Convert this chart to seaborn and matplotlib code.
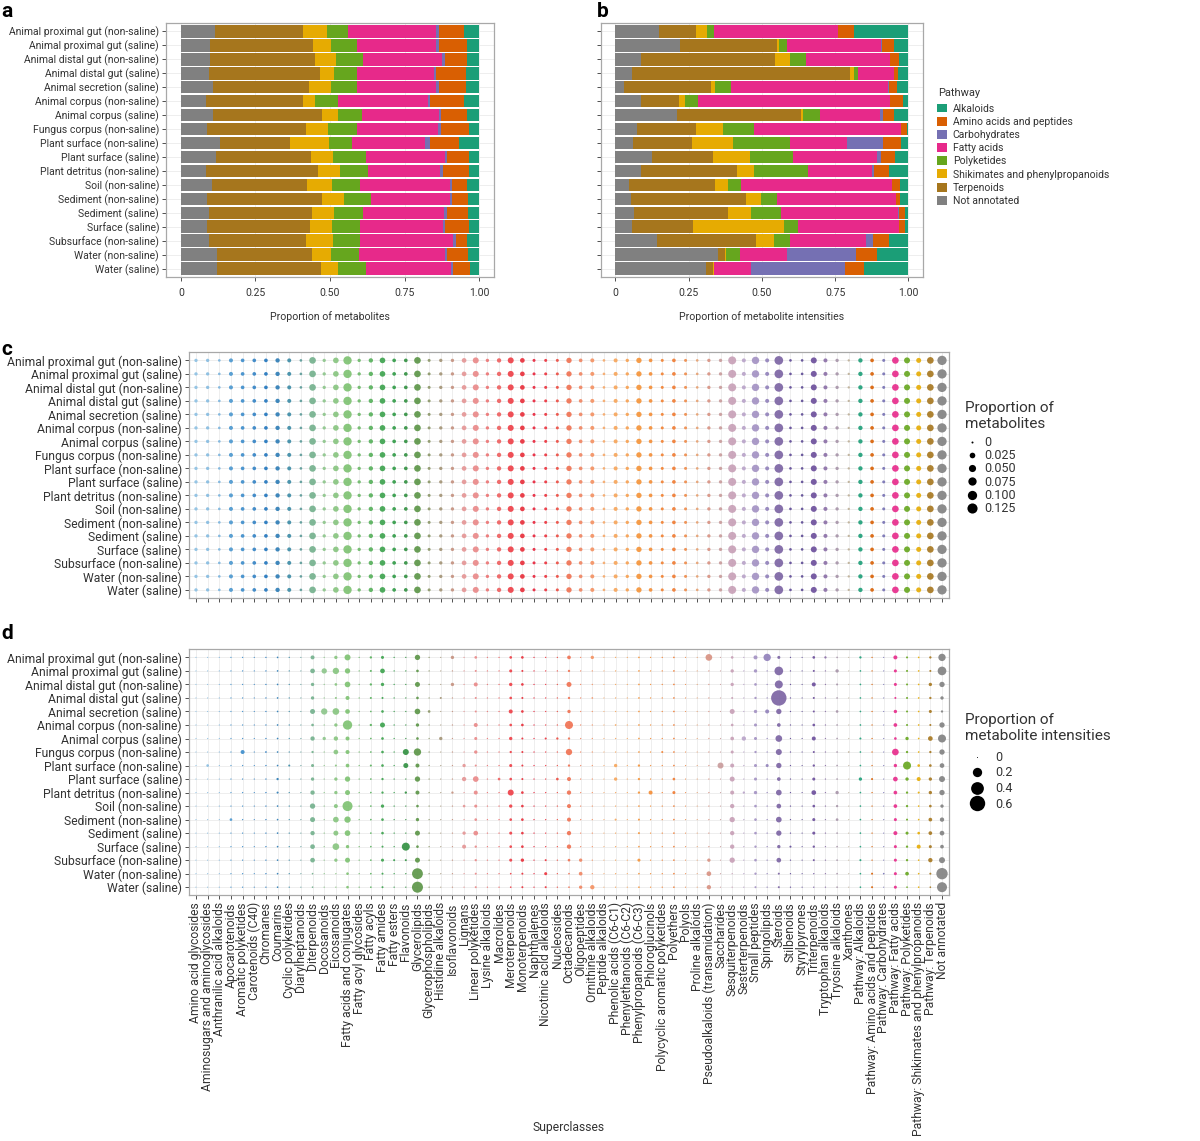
import numpy as np
import pandas as pd
import matplotlib
matplotlib.use("Agg")
import matplotlib.pyplot as plt
import seaborn as sns
from matplotlib.lines import Line2D
from matplotlib.patches import Patch

sns.set_theme(style="white")
plt.rcParams["font.family"] = ["Roboto", "DejaVu Sans"]

# ---------------------------------------------------------------- data
samples = [
    "Animal proximal gut (non-saline)", "Animal proximal gut (saline)",
    "Animal distal gut (non-saline)", "Animal distal gut (saline)",
    "Animal secretion (saline)", "Animal corpus (non-saline)",
    "Animal corpus (saline)", "Fungus corpus (non-saline)",
    "Plant surface (non-saline)", "Plant surface (saline)",
    "Plant detritus (non-saline)", "Soil (non-saline)",
    "Sediment (non-saline)", "Sediment (saline)", "Surface (saline)",
    "Subsurface (non-saline)", "Water (non-saline)", "Water (saline)",
]

pathways = ["Alkaloids", "Amino acids and peptides", "Carbohydrates",
            "Fatty acids", "Polyketides", "Shikimates and phenylpropanoids",
            "Terpenoids", "Not annotated"]

# panel a: proportion of metabolites per pathway (one value per sample)
a_not_annotated = [0.115, 0.096, 0.096, 0.093, 0.106, 0.085, 0.107, 0.087, 0.131, 0.118, 0.084, 0.104, 0.089, 0.093, 0.087, 0.095, 0.122, 0.121]
a_terpenoids = [0.293, 0.346, 0.353, 0.374, 0.325, 0.326, 0.367, 0.331, 0.234, 0.318, 0.376, 0.318, 0.383, 0.347, 0.347, 0.326, 0.316, 0.348]
a_shikimates = [0.083, 0.062, 0.071, 0.048, 0.073, 0.039, 0.054, 0.074, 0.130, 0.073, 0.072, 0.084, 0.075, 0.074, 0.073, 0.090, 0.064, 0.057]
a_polyketides = [0.071, 0.085, 0.089, 0.077, 0.085, 0.077, 0.079, 0.098, 0.078, 0.112, 0.096, 0.095, 0.089, 0.096, 0.092, 0.089, 0.094, 0.096]
a_fatty_acids = [0.294, 0.267, 0.267, 0.256, 0.267, 0.301, 0.259, 0.271, 0.247, 0.263, 0.242, 0.300, 0.265, 0.272, 0.279, 0.314, 0.288, 0.283]
a_carbohydrates = [0.010, 0.009, 0.010, 0.009, 0.009, 0.006, 0.007, 0.012, 0.016, 0.010, 0.009, 0.007, 0.008, 0.010, 0.009, 0.007, 0.009, 0.009]
a_amino_acids = [0.085, 0.096, 0.075, 0.098, 0.090, 0.116, 0.088, 0.092, 0.098, 0.071, 0.087, 0.053, 0.055, 0.072, 0.078, 0.040, 0.069, 0.055]
a_alkaloids = [0.049, 0.039, 0.039, 0.045, 0.045, 0.050, 0.039, 0.035, 0.066, 0.035, 0.034, 0.039, 0.036, 0.036, 0.035, 0.039, 0.038, 0.031]

# panel b: proportion of metabolite intensities per pathway
b_not_annotated = [0.149, 0.222, 0.086, 0.056, 0.030, 0.089, 0.211, 0.073, 0.059, 0.124, 0.089, 0.047, 0.052, 0.063, 0.056, 0.141, 0.351, 0.311]
b_terpenoids = [0.125, 0.329, 0.458, 0.746, 0.295, 0.128, 0.422, 0.202, 0.202, 0.210, 0.326, 0.294, 0.395, 0.322, 0.208, 0.339, 0.024, 0.022]
b_shikimates = [0.040, 0.008, 0.053, 0.013, 0.014, 0.021, 0.008, 0.093, 0.141, 0.126, 0.059, 0.044, 0.051, 0.079, 0.313, 0.062, 0.003, 0.002]
b_polyketides = [0.022, 0.026, 0.053, 0.013, 0.055, 0.044, 0.056, 0.104, 0.195, 0.145, 0.183, 0.045, 0.055, 0.101, 0.047, 0.055, 0.048, 0.003]
b_fatty_acids = [0.424, 0.323, 0.288, 0.123, 0.538, 0.656, 0.205, 0.502, 0.192, 0.288, 0.220, 0.514, 0.404, 0.401, 0.344, 0.260, 0.159, 0.125]
b_carbohydrates = [0.000, 0.001, 0.000, 0.000, 0.001, 0.000, 0.013, 0.002, 0.126, 0.015, 0.006, 0.000, 0.001, 0.003, 0.000, 0.024, 0.235, 0.321]
b_amino_acids = [0.055, 0.043, 0.030, 0.012, 0.028, 0.045, 0.037, 0.019, 0.059, 0.045, 0.050, 0.026, 0.014, 0.020, 0.021, 0.054, 0.072, 0.066]
b_alkaloids = [0.185, 0.048, 0.032, 0.037, 0.039, 0.017, 0.048, 0.005, 0.026, 0.047, 0.067, 0.030, 0.028, 0.011, 0.011, 0.065, 0.108, 0.150]

superclasses = [
    "Amino acid glycosides", "Aminosugars and aminoglycosides",
    "Anthranilic acid alkaloids", "Apocarotenoids", "Aromatic polyketides",
    "Carotenoids (C40)", "Chromanes", "Coumarins", "Cyclic polyketides",
    "Diarylheptanoids", "Diterpenoids", "Docosanoids", "Eicosanoids",
    "Fatty acids and conjugates", "Fatty acyl glycosides", "Fatty acyls",
    "Fatty amides", "Fatty esters", "Flavonoids", "Glycerolipids",
    "Glycerophospholipids", "Histidine alkaloids", "Isoflavonoids", "Lignans",
    "Linear polyketides", "Lysine alkaloids", "Macrolides", "Meroterpenoids",
    "Monoterpenoids", "Naphthalenes", "Nicotinic acid alkaloids",
    "Nucleosides", "Octadecanoids", "Oligopeptides", "Ornithine alkaloids",
    "Peptide alkaloids", "Phenolic acids (C6-C1)", "Phenylethanoids (C6-C2)",
    "Phenylpropanoids (C6-C3)", "Phloroglucinols",
    "Polycyclic aromatic polyketides", "Polyethers", "Polyols",
    "Proline alkaloids", "Pseudoalkaloids (transamidation)", "Saccharides",
    "Sesquiterpenoids", "Sesterterpenoids", "Small peptides", "Spingolipids",
    "Steroids", "Stilbenoids", "Styrylpyrones", "Triterpenoids",
    "Tryptophan alkaloids", "Tryosine alkaloids", "Xanthones",
    "Pathway: Alkaloids", "Pathway: Amino acids and peptides",
    "Pathway: Carbohydrates", "Pathway: Fatty acids", "Pathway: Polyketides",
    "Pathway: Shikimates and phenylpropanoids", "Pathway: Terpenoids",
    "Not annotated",
]

# panel c: proportion of metabolites per superclass (nearly equal in all samples)
c_values = [
    0.0034, 0.0034, 0.0008, 0.0076, 0.0053, 0.0053, 0.0053, 0.0103, 0.0076, 0.0008,
    0.041, 0.0034, 0.025, 0.076, 0.0034, 0.0103, 0.025, 0.0053, 0.0053, 0.041,
    0.0019, 0.0034, 0.0034, 0.0135, 0.030, 0.0034, 0.0103, 0.030, 0.0135, 0.0019,
    0.0019, 0.0019, 0.021, 0.0053, 0.0076, 0.0008, 0.0076, 0.0034, 0.021, 0.0053,
    0.0019, 0.0053, 0.0019, 0.0008, 0.0034, 0.0034, 0.068, 0.0076, 0.054, 0.0076,
    0.084, 0.0008, 0.0008, 0.030, 0.0076, 0.0034, 0.0002, 0.0103, 0.0053, 0.0019,
    0.041, 0.030, 0.017, 0.041, 0.100,
]

# panel d: proportion of metabolite intensities; typical value per superclass ...
d_typical = [
    0.0001, 0.0001, 0.0001, 0.0003, 0.0003, 0.0001, 0.0003, 0.0013, 0.0003, 0.0001,
    0.008, 0.0003, 0.0029, 0.0157, 0.0003, 0.0013, 0.0029, 0.0003, 0.0003, 0.0029,
    0.0003, 0.0001, 0.0003, 0.0003, 0.0029, 0.0003, 0.0003, 0.0051, 0.0029, 0.0003,
    0.0003, 0.0003, 0.0051, 0.0003, 0.0003, 0.0001, 0.0003, 0.0001, 0.0013, 0.0003,
    0.0003, 0.0013, 0.0001, 0.0001, 0.0003, 0.0001, 0.008, 0.0003, 0.0051, 0.0003,
    0.0157, 0.0003, 0.0001, 0.0029, 0.0003, 0.0013, 0.0001, 0.0013, 0.0003, 0.0001,
    0.008, 0.0029, 0.0013, 0.0051, 0.026,
]
# ... and the values read for each sample (sample number -> {superclass number: value}), 1-based
d_sample_values = {
    1: {11: 0.026, 13: 0.016, 14: 0.072, 16: 0.005, 17: 0.012, 20: 0.054, 23: 0.016, 25: 0.008, 28: 0.008, 29: 0.008, 33: 0.021, 35: 0.016, 45: 0.093, 49: 0.026, 50: 0.116, 51: 0.012, 54: 0.008, 55: 0.005, 58: 0.005, 61: 0.026, 65: 0.116},
    2: {11: 0.039, 12: 0.054, 13: 0.082, 14: 0.054, 16: 0.003, 17: 0.039, 20: 0.008, 28: 0.012, 33: 0.005, 47: 0.016, 49: 0.016, 51: 0.17, 56: 0.016, 61: 0.012, 62: 0.003, 64: 0.003, 65: 0.17},
    3: {11: 0.016, 13: 0.008, 14: 0.063, 16: 0.005, 17: 0.016, 20: 0.046, 23: 0.016, 25: 0.026, 28: 0.016, 29: 0.008, 33: 0.046, 47: 0.016, 49: 0.008, 51: 0.142, 54: 0.026, 56: 0.003, 61: 0.012, 64: 0.016, 65: 0.054},
    4: {11: 0.016, 14: 0.026, 16: 0.003, 17: 0.003, 20: 0.008, 22: 0.003, 28: 0.008, 29: 0.003, 33: 0.005, 35: 0.0013, 47: 0.003, 51: 0.6, 61: 0.003, 65: 0.016},
    5: {11: 0.046, 12: 0.082, 13: 0.093, 14: 0.039, 17: 0.008, 20: 0.063, 21: 0.008, 28: 0.026, 29: 0.008, 33: 0.016, 47: 0.046, 49: 0.016, 50: 0.026, 51: 0.054, 56: 0.008, 61: 0.016, 64: 0.012, 65: 0.005},
    6: {11: 0.008, 13: 0.016, 14: 0.2, 16: 0.005, 17: 0.046, 20: 0.016, 25: 0.026, 28: 0.008, 29: 0.008, 33: 0.142, 37: 0.0013, 39: 0.0013, 47: 0.008, 49: 0.012, 51: 0.021, 54: 0.008, 61: 0.021, 64: 0.003, 65: 0.054},
    7: {11: 0.032, 12: 0.016, 13: 0.032, 14: 0.026, 17: 0.008, 20: 0.008, 22: 0.016, 25: 0.012, 28: 0.016, 29: 0.003, 31: 0.003, 32: 0.005, 33: 0.005, 47: 0.021, 48: 0.032, 49: 0.012, 51: 0.093, 54: 0.026, 58: 0.003, 61: 0.008, 62: 0.016, 64: 0.039, 65: 0.142},
    8: {5: 0.026, 7: 0.0013, 11: 0.005, 13: 0.039, 14: 0.026, 17: 0.008, 19: 0.072, 20: 0.116, 25: 0.016, 28: 0.005, 33: 0.082, 41: 0.003, 47: 0.012, 51: 0.072, 57: 0.0013, 61: 0.093, 62: 0.005, 64: 0.005, 65: 0.054},
    9: {2: 0.008, 9: 0.003, 11: 0.012, 14: 0.021, 16: 0.003, 17: 0.008, 19: 0.046, 20: 0.026, 24: 0.016, 28: 0.012, 33: 0.005, 37: 0.016, 39: 0.005, 46: 0.072, 47: 0.026, 49: 0.012, 50: 0.012, 51: 0.054, 54: 0.005, 61: 0.016, 62: 0.142, 63: 0.008, 64: 0.008, 65: 0.039},
    10: {8: 0.005, 11: 0.016, 13: 0.016, 14: 0.054, 17: 0.005, 20: 0.054, 24: 0.032, 25: 0.063, 27: 0.008, 28: 0.008, 29: 0.003, 32: 0.008, 33: 0.026, 37: 0.016, 39: 0.005, 42: 0.008, 47: 0.046, 49: 0.012, 51: 0.021, 54: 0.012, 58: 0.016, 59: 0.003, 61: 0.039, 62: 0.016, 63: 0.026, 64: 0.016, 65: 0.072},
    11: {8: 0.003, 11: 0.032, 13: 0.016, 14: 0.046, 17: 0.005, 19: 0.005, 20: 0.026, 23: 0.005, 25: 0.026, 28: 0.072, 29: 0.008, 33: 0.032, 39: 0.005, 40: 0.026, 42: 0.012, 47: 0.026, 48: 0.005, 49: 0.016, 51: 0.063, 54: 0.039, 56: 0.016, 61: 0.021, 62: 0.005, 63: 0.003, 64: 0.016, 65: 0.054},
    12: {11: 0.054, 13: 0.026, 14: 0.234, 17: 0.016, 20: 0.008, 24: 0.008, 25: 0.012, 28: 0.016, 29: 0.008, 33: 0.026, 47: 0.032, 49: 0.008, 51: 0.039, 54: 0.008, 56: 0.005, 61: 0.021, 62: 0.005, 64: 0.008, 65: 0.016},
    13: {4: 0.008, 11: 0.046, 13: 0.063, 14: 0.082, 17: 0.008, 20: 0.016, 25: 0.008, 28: 0.008, 29: 0.008, 33: 0.026, 37: 0.003, 39: 0.003, 47: 0.054, 49: 0.008, 51: 0.063, 54: 0.012, 56: 0.008, 61: 0.012, 62: 0.003, 64: 0.021, 65: 0.032},
    14: {11: 0.032, 13: 0.046, 14: 0.063, 17: 0.008, 20: 0.046, 24: 0.016, 25: 0.039, 28: 0.012, 29: 0.008, 33: 0.032, 39: 0.003, 42: 0.0013, 47: 0.032, 49: 0.008, 51: 0.054, 54: 0.012, 61: 0.026, 62: 0.012, 63: 0.008, 64: 0.021, 65: 0.039},
    15: {11: 0.039, 13: 0.093, 14: 0.016, 19: 0.142, 20: 0.008, 24: 0.026, 25: 0.005, 28: 0.008, 29: 0.008, 33: 0.032, 47: 0.032, 51: 0.016, 52: 0.003, 54: 0.005, 61: 0.012, 62: 0.005, 63: 0.026, 64: 0.012, 65: 0.021},
    16: {11: 0.039, 13: 0.016, 14: 0.046, 17: 0.012, 18: 0.003, 19: 0.003, 20: 0.046, 25: 0.005, 28: 0.012, 29: 0.016, 31: 0.003, 33: 0.008, 34: 0.016, 39: 0.012, 45: 0.016, 47: 0.054, 49: 0.008, 51: 0.039, 58: 0.003, 61: 0.012, 62: 0.005, 64: 0.032, 65: 0.072},
    17: {11: 0.0013, 13: 0.0003, 14: 0.008, 20: 0.28, 28: 0.0013, 31: 0.012, 33: 0.0013, 34: 0.021, 45: 0.039, 47: 0.0003, 49: 0.005, 51: 0.003, 54: 0.0003, 58: 0.0013, 59: 0.003, 60: 0.0013, 61: 0.012, 62: 0.021, 64: 0.003, 65: 0.31},
    18: {11: 0.0013, 13: 0.0003, 14: 0.008, 20: 0.29, 28: 0.0013, 31: 0.003, 33: 0.0013, 34: 0.016, 35: 0.032, 45: 0.032, 47: 0.0003, 49: 0.003, 51: 0.003, 54: 0.0003, 58: 0.0013, 59: 0.003, 61: 0.012, 62: 0.0013, 64: 0.0013, 65: 0.234},
}

c_legend_breaks = [0, 0.025, 0.05, 0.075, 0.1, 0.125]
c_legend_labels = ["0", "0.025", "0.050", "0.075", "0.100", "0.125"]
d_legend_breaks = [0, 0.2, 0.4, 0.6]
d_legend_labels = ["0", "0.2", "0.4", "0.6"]

# ---------------------------------------------------------------- styles
pathway_colors = {
    "Alkaloids": "#1b9e77", "Amino acids and peptides": "#d95f02",
    "Carbohydrates": "#7570b3", "Fatty acids": "#e7298a",
    "Polyketides": "#66a61e", "Shikimates and phenylpropanoids": "#e6ab02",
    "Terpenoids": "#a6761d", "Not annotated": "#808080",
}
stack_order = ["Not annotated", "Terpenoids", "Shikimates and phenylpropanoids",
               "Polyketides", "Fatty acids", "Carbohydrates",
               "Amino acids and peptides", "Alkaloids"]

superclass_palette = [
    "#8cc0e3", "#85bbe0", "#7ab4de", "#4a97cf", "#3b8ccb", "#3282c4", "#1f74bd", "#2b7bb5", "#3a8aa5", "#5a9a98",
    "#72b08c", "#8cc58a", "#86c47e", "#7cc170", "#6ab866", "#55b05a", "#3ba24c", "#2e9a45", "#2f8f3f", "#5a9445",
    "#8a9565", "#a29274", "#c4907e", "#e49494", "#e98787", "#ec7373", "#ee5e5e", "#ee3d45", "#e82c38", "#e8223a",
    "#ec2f3a", "#ec4a40", "#f07050", "#f08460", "#f49060", "#f6a868", "#f7a458", "#f7a050", "#f59236", "#f48c34",
    "#f28030", "#f07a30", "#ee8a48", "#e6a070", "#d79080", "#c89a9a", "#c79fb6", "#b8a2c8", "#a290c2", "#9080ba",
    "#7a62a2", "#5d4896", "#5c4a94", "#6a4c9a", "#8a6ea6", "#a693a8", "#bcae96",
    "#1b9e77", "#d95f02", "#7570b3", "#e7298a", "#66a61e", "#e6ab02", "#a6761d", "#808080",
]
sc_colors = dict(zip(superclasses, superclass_palette))

TXT = "#333333"
GRID = "#ebebeb"
BORDER = "#a8a8a8"
W, H = 1200, 1141
PX2PT = 72 / 100


def c_diam_px(v):
    return 2 + 23 * np.sqrt(v)


def d_diam_px(v):
    return 1 + 18.6 * np.sqrt(v)


def fr(x0, y0, x1, y1):
    return [x0 / W, 1 - y1 / H, (x1 - x0) / W, (y1 - y0) / H]


def fx(x):
    return x / W


def fy(y):
    return 1 - y / H


fig = plt.figure(figsize=(12, 11.41), dpi=100)
ax_a = fig.add_axes(fr(166, 23, 494, 277))
ax_b = fig.add_axes(fr(600.7, 23, 923, 277))
ax_c = fig.add_axes(fr(189, 352.3, 949, 598))
ax_d = fig.add_axes(fr(189, 649.3, 949, 895.3))


def style_axes(ax, fs):
    for sp in ax.spines.values():
        sp.set_visible(True)
        sp.set_color(BORDER)
        sp.set_linewidth(0.9)
    ax.grid(True, color=GRID, linewidth=0.6)
    ax.set_axisbelow(True)
    ax.tick_params(axis="both", length=3, width=0.6, color=TXT, labelcolor=TXT,
                   labelsize=fs, pad=2, bottom=True, left=True)


def stacked(ax, data, xlabel, show_y):
    df = pd.DataFrame(data, index=samples)[stack_order]
    cum = df.cumsum(axis=1)
    for pw in reversed(stack_order):
        sns.barplot(x=cum[pw].values, y=samples, order=samples, orient="h",
                    color=pathway_colors[pw], saturation=1, width=0.9,
                    linewidth=0, errorbar=None, ax=ax, zorder=2)
    style_axes(ax, 7.5)
    ax.tick_params(axis="x", pad=5)
    ax.set_xlim(-0.05, 1.05)
    ax.set_ylim(17.6, -0.6)
    ax.set_xticks([0, 0.25, 0.5, 0.75, 1.0])
    ax.set_xticklabels(["0", "0.25", "0.50", "0.75", "1.00"])
    ax.set_xlabel(xlabel, fontsize=7.6, color=TXT, labelpad=9)
    ax.set_ylabel("")
    if not show_y:
        ax.set_yticklabels([])


stacked(ax_a, {"Not annotated": a_not_annotated, "Terpenoids": a_terpenoids,
               "Shikimates and phenylpropanoids": a_shikimates,
               "Polyketides": a_polyketides, "Fatty acids": a_fatty_acids,
               "Carbohydrates": a_carbohydrates,
               "Amino acids and peptides": a_amino_acids,
               "Alkaloids": a_alkaloids},
        "Proportion of metabolites", True)
stacked(ax_b, {"Not annotated": b_not_annotated, "Terpenoids": b_terpenoids,
               "Shikimates and phenylpropanoids": b_shikimates,
               "Polyketides": b_polyketides, "Fatty acids": b_fatty_acids,
               "Carbohydrates": b_carbohydrates,
               "Amino acids and peptides": b_amino_acids,
               "Alkaloids": b_alkaloids},
        "Proportion of metabolite intensities", False)

# ---- dot panels
rows_c, rows_d = [], []
for i, s in enumerate(samples):
    for j, sc in enumerate(superclasses):
        rows_c.append((s, sc, c_values[j]))
        rows_d.append((s, sc, d_sample_values[i + 1].get(j + 1, d_typical[j])))
c_df = pd.DataFrame(rows_c, columns=["sample", "superclass", "value"])
d_df = pd.DataFrame(rows_d, columns=["sample", "superclass", "value"])
c_df["area"] = (c_diam_px(c_df["value"]) * PX2PT) ** 2
d_df["area"] = (d_diam_px(d_df["value"]) * PX2PT) ** 2


def dots(ax, df, show_x):
    sizes = {a: a for a in df["area"].unique()}
    sns.scatterplot(data=df, x="superclass", y="sample", hue="superclass",
                    palette=sc_colors, size="area", sizes=sizes,
                    linewidth=0, alpha=0.9, legend=False, ax=ax, zorder=3)
    style_axes(ax, 8.7)
    ax.set_xlim(-0.6, len(superclasses) - 0.4)
    ax.set_ylim(len(samples) - 0.4, -0.6)
    ax.set_xticks(range(len(superclasses)))
    ax.set_yticks(range(len(samples)))
    ax.set_yticklabels(samples)
    ax.set_ylabel("")
    ax.set_xlabel("")
    if show_x:
        ax.set_xticklabels(superclasses, rotation=90, ha="center", va="top")
    else:
        ax.set_xticklabels([])


dots(ax_c, c_df, False)
dots(ax_d, d_df, True)
fig.text(fx(569), fy(1128), "Superclasses", fontsize=8.7, color=TXT,
         ha="center", va="center")

# ---- legends
fig.text(fx(938), fy(93), "Pathway", fontsize=7.9, color=TXT, ha="left", va="center")
path_handles = [Patch(facecolor=pathway_colors[p], edgecolor="none") for p in pathways]
leg_p = fig.legend(handles=path_handles, labels=pathways,
                   loc="upper left", bbox_to_anchor=(fx(937), fy(103.5)),
                   frameon=False, fontsize=7.5,
                   handlelength=0.95, handleheight=0.95, labelspacing=0.3,
                   handletextpad=0.55, borderpad=0, borderaxespad=0)
for t in leg_p.get_texts():
    t.set_color(TXT)

fig.text(fx(965), fy(401), "Proportion of\nmetabolites", fontsize=11,
         color=TXT, ha="left", va="top", linespacing=1.15)
c_handles = [Line2D([], [], marker="o", linestyle="", color="black",
                    markeredgewidth=0, markersize=c_diam_px(v) * PX2PT)
             for v in c_legend_breaks]
leg_c = fig.legend(handles=c_handles, labels=c_legend_labels,
                   loc="upper left", bbox_to_anchor=(fx(964), fy(436)),
                   frameon=False, fontsize=9, handlelength=1.3,
                   labelspacing=0.02, handletextpad=0.35, borderpad=0,
                   borderaxespad=0)
for t in leg_c.get_texts():
    t.set_color(TXT)

fig.text(fx(965), fy(713), "Proportion of\nmetabolite intensities", fontsize=11,
         color=TXT, ha="left", va="top", linespacing=1.15)
d_handles = [Line2D([], [], marker="o", linestyle="", color="black",
                    markeredgewidth=0, markersize=d_diam_px(v) * PX2PT)
             for v in d_legend_breaks]
leg_d = fig.legend(handles=d_handles, labels=d_legend_labels,
                   loc="upper left", bbox_to_anchor=(fx(964), fy(751)),
                   frameon=False, fontsize=9, handlelength=2.0,
                   labelspacing=0.2, handletextpad=0.5, borderpad=0,
                   borderaxespad=0)
for t in leg_d.get_texts():
    t.set_color(TXT)

# ---- panel letters
for letter, x, y in [("a", 1, 2), ("b", 597, 2), ("c", 1, 340), ("d", 1, 624)]:
    fig.text(fx(x), fy(y), letter, fontsize=15, fontweight="bold",
             va="top", ha="left", color="black")

fig.savefig("out.png", dpi=100)
